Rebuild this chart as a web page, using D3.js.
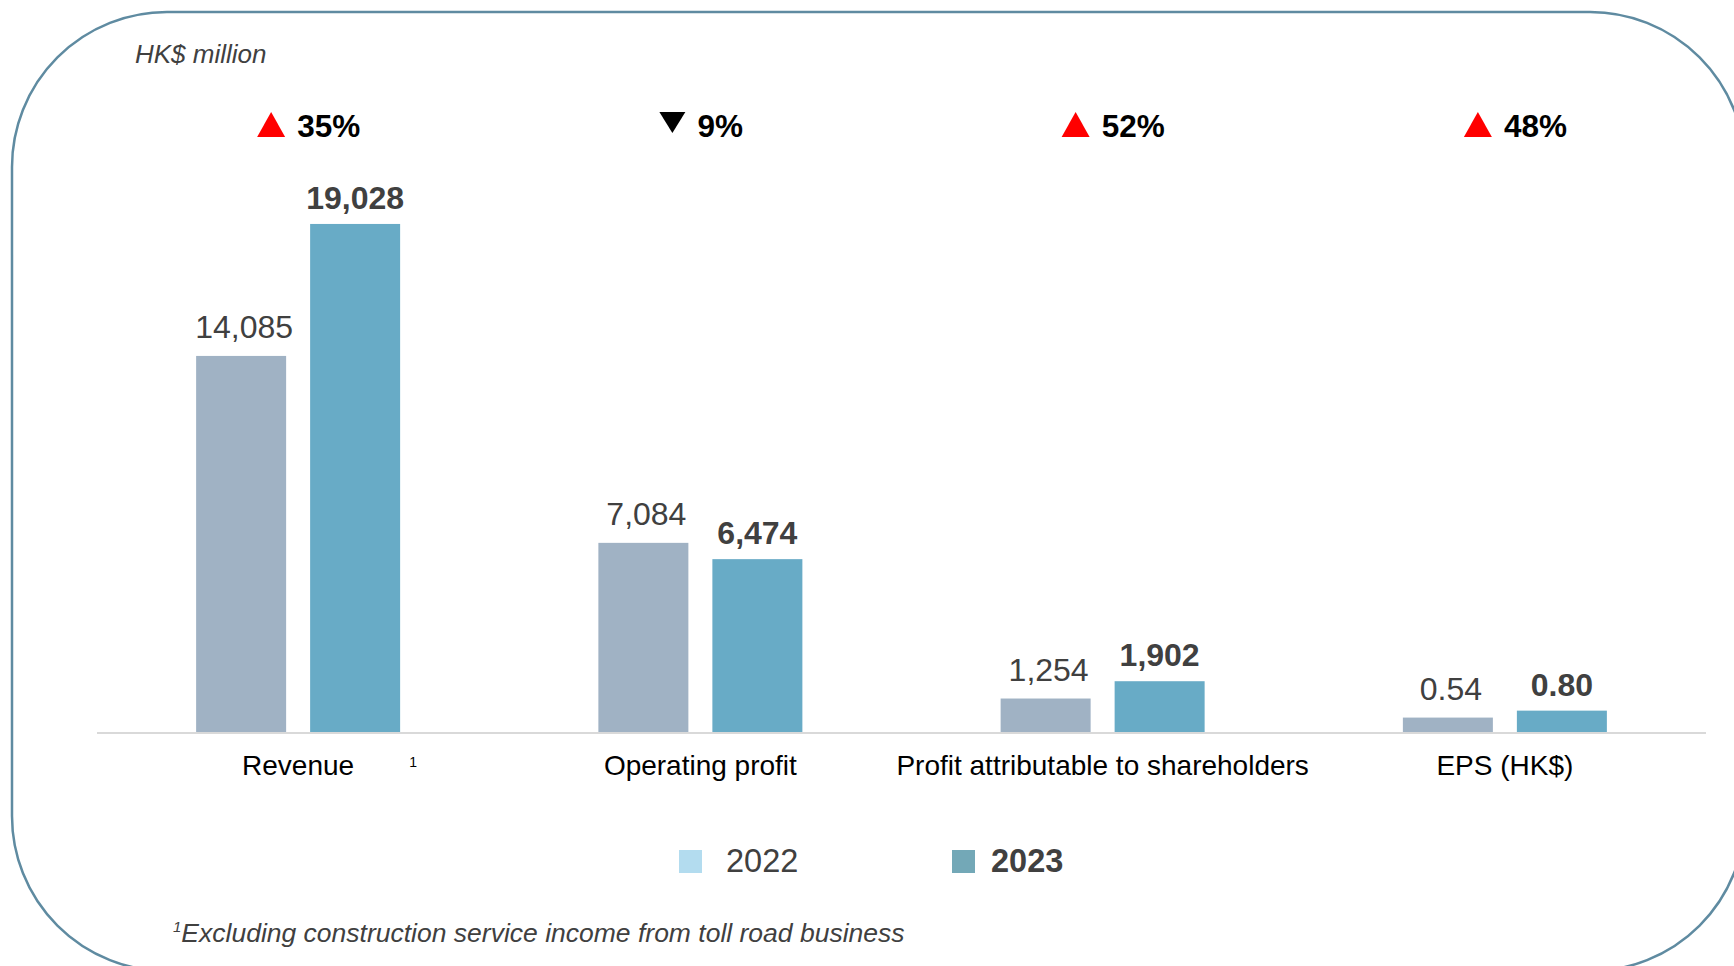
<!DOCTYPE html>
<html>
<head>
<meta charset="utf-8">
<script src="https://cdn.jsdelivr.net/npm/d3@7"></script>
<style>
  html, body { margin: 0; padding: 0; background: #fff; }
  svg { display: block; font-family: "Liberation Sans", Arial, sans-serif; }
</style>
</head>
<body>
<div class="chart"></div>
<script>
const categories = ['Revenue', 'Operating profit', 'Profit attributable to shareholders', 'EPS (HK$)'];
const values2022 = [14085, 7084, 1254, 0.54];
const values2023 = [19028, 6474, 1902, 0.80];
const labels2022 = ['14,085', '7,084', '1,254', '0.54'];
const labels2023 = ['19,028', '6,474', '1,902', '0.80'];
const changes = ['35%', '9%', '52%', '48%'];
const changeUp = [true, false, true, true];
const years = ['2022', '2023'];
// EPS is plotted in HK$ thousandths so it shares the same axis
const plotUnit = [1, 1, 1, 1000];

const w = 1734, h = 966;
const baseline = 732;

const svg = d3.select('.chart').append('svg')
    .attr('width', w)
    .attr('height', h);

// rounded frame
svg.append('rect')
    .attr('x', 12).attr('y', 12)
    .attr('width', 1733).attr('height', 959)
    .attr('rx', 155).attr('ry', 155)
    .attr('fill', 'none')
    .attr('stroke', '#5f8ba1')
    .attr('stroke-width', 2.5);

const x = d3.scaleBand()
    .domain(categories)
    .range([97, 1706]);

const y = d3.scaleLinear()
    .domain([0, 20000])
    .range([baseline, baseline - 534]);

const barW = 90, gap = 12;

// units note
svg.append('text')
    .attr('x', 135).attr('y', 63)
    .attr('font-size', 26).attr('font-style', 'italic')
    .attr('fill', '#404040')
    .text('HK$ million');

const g = svg.append('g');
const cx = d => x(d) + x.bandwidth() / 2;

// 2022 bars
g.selectAll('.b22')
    .data(categories)
    .join('rect')
    .attr('class', 'b22')
    .attr('x', d => cx(d) - gap - barW)
    .attr('y', (d, i) => y(values2022[i] * plotUnit[i]))
    .attr('width', barW)
    .attr('height', (d, i) => baseline - y(values2022[i] * plotUnit[i]))
    .attr('fill', '#a0b2c4');

// 2023 bars
g.selectAll('.b23')
    .data(categories)
    .join('rect')
    .attr('class', 'b23')
    .attr('x', d => cx(d) + gap)
    .attr('y', (d, i) => y(values2023[i] * plotUnit[i]))
    .attr('width', barW)
    .attr('height', (d, i) => baseline - y(values2023[i] * plotUnit[i]))
    .attr('fill', '#68abc6');

// value labels
g.selectAll('.l22')
    .data(categories)
    .join('text')
    .attr('class', 'l22')
    .attr('x', d => cx(d) - gap - barW / 2 + 3)
    .attr('y', (d, i) => y(values2022[i] * plotUnit[i]) - 18)
    .attr('text-anchor', 'middle')
    .attr('font-size', 32)
    .attr('fill', '#404040')
    .text((d, i) => labels2022[i]);

g.selectAll('.l23')
    .data(categories)
    .join('text')
    .attr('class', 'l23')
    .attr('x', d => cx(d) + gap + barW / 2)
    .attr('y', (d, i) => y(values2023[i] * plotUnit[i]) - 15)
    .attr('text-anchor', 'middle')
    .attr('font-size', 32)
    .attr('font-weight', 'bold')
    .attr('fill', '#404040')
    .text((d, i) => labels2023[i]);

// baseline
svg.append('line')
    .attr('x1', 97).attr('x2', 1706)
    .attr('y1', baseline + 1).attr('y2', baseline + 1)
    .attr('stroke', '#d9d9d9')
    .attr('stroke-width', 2);

// category labels
const xAxis = svg.append('g')
    .attr('transform', `translate(0,${baseline})`)
    .call(d3.axisBottom(x).tickSize(0).tickPadding(0));
xAxis.select('.domain').remove();
xAxis.selectAll('text')
    .attr('dy', null)
    .attr('y', 43)
    .attr('font-size', 28)
    .attr('font-family', '"Liberation Sans", Arial, sans-serif')
    .attr('fill', '#000');

// footnote marker on Revenue
svg.append('text')
    .attr('x', cx(categories[0]) + 115).attr('y', 767)
    .attr('font-size', 14)
    .attr('text-anchor', 'middle')
    .attr('fill', '#000')
    .text('1');

// change indicators
const chg = svg.selectAll('.chg')
    .data(categories)
    .join('g')
    .attr('class', 'chg')
    .attr('transform', d => `translate(${cx(d) - 41},137)`);

chg.append('path')
    .attr('d', (d, i) => changeUp[i] ? 'M0,0 L28,0 L14,-25 Z' : 'M0,-25 L26,-25 L13,-4 Z')
    .attr('fill', (d, i) => changeUp[i] ? '#ff0000' : '#000');

chg.append('text')
    .attr('x', (d, i) => changeUp[i] ? 40 : 38)
    .attr('y', 0)
    .attr('font-size', 31.5)
    .attr('font-weight', 'bold')
    .attr('fill', '#000')
    .text((d, i) => changes[i]);

// legend
const legendColors = ['#b3dcef', '#73a8b7'];
const legendX = [679, 952];
const lg = svg.selectAll('.lg')
    .data(years)
    .join('g')
    .attr('class', 'lg')
    .attr('transform', (d, i) => `translate(${legendX[i]},850)`);
lg.append('rect')
    .attr('width', 23).attr('height', 23)
    .attr('fill', (d, i) => legendColors[i]);
lg.append('text')
    .attr('x', (d, i) => i === 0 ? 47 : 39)
    .attr('y', 22)
    .attr('font-size', 32.5)
    .attr('font-weight', (d, i) => i === 1 ? 'bold' : 'normal')
    .attr('fill', '#404040')
    .text(d => d);

// footnote
const fn = svg.append('text')
    .attr('x', 173).attr('y', 942)
    .attr('font-size', 26.5).attr('font-style', 'italic')
    .attr('fill', '#404040');
fn.append('tspan').attr('font-size', 15).attr('dy', -10).text('1');
fn.append('tspan').attr('dy', 10).text('Excluding construction service income from toll road business');
</script>
</body>
</html>
